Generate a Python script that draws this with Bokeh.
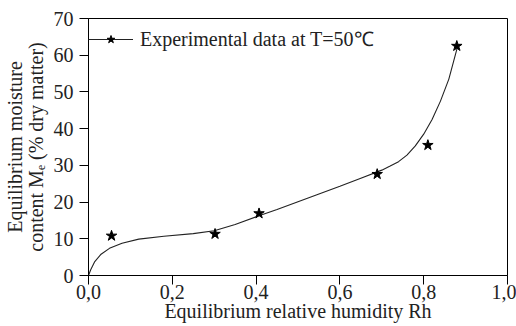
from bokeh.plotting import figure
from bokeh.models import FixedTicker, CustomJSTickFormatter, Range1d, Legend, LegendItem
from bokeh.embed import file_html
from bokeh.resources import INLINE

# Experimental data (T = 50 °C)
rh_exp = [0.055, 0.302, 0.407, 0.689, 0.810, 0.879]
me_exp = [10.8, 11.3, 16.9, 27.6, 35.5, 62.5]

# Fitted sorption curve
rh_fit = [0.0, 0.005, 0.015, 0.03, 0.05, 0.08, 0.12, 0.18, 0.25, 0.30, 0.35, 0.40,
          0.45, 0.50, 0.55, 0.60, 0.65, 0.70, 0.72, 0.74, 0.76, 0.78, 0.80, 0.82,
          0.84, 0.86, 0.88]
me_fit = [0.0, 1.5, 3.8, 5.8, 7.4, 8.8, 9.9, 10.7, 11.4, 12.2, 13.9, 16.0,
          18.0, 20.1, 22.2, 24.3, 26.5, 28.7, 29.8, 31.0, 32.8, 35.3, 38.5, 42.5,
          47.5, 53.5, 62.0]

x_ticks = [0.0, 0.2, 0.4, 0.6, 0.8, 1.0]
y_ticks = [0, 10, 20, 30, 40, 50, 60, 70]

FONT = "Liberation Serif"
FS = "20px"

p = figure(width=516, height=326, output_backend="svg", toolbar_location=None,
           x_range=Range1d(0, 1.0), y_range=Range1d(0, 70),
           min_border_left=86, min_border_right=9, min_border_top=18, min_border_bottom=51)
p.grid.visible = False
p.outline_line_color = "black"
p.outline_line_width = 1
p.background_fill_color = "white"
p.border_fill_color = "white"

for ax in (p.xaxis[0], p.yaxis[0]):
    ax.axis_line_color = "black"
    ax.major_tick_line_color = "black"
    ax.major_tick_out = 9
    ax.major_tick_in = 0
    ax.minor_tick_line_color = None
    ax.major_label_text_font = FONT
    ax.major_label_text_font_size = FS
    ax.major_label_text_color = "#222222"
    ax.axis_label_text_font = FONT
    ax.axis_label_text_font_size = FS
    ax.axis_label_text_font_style = "normal"
    ax.axis_label_text_color = "#222222"

p.xaxis.ticker = FixedTicker(ticks=x_ticks)
p.yaxis.ticker = FixedTicker(ticks=y_ticks)
p.xaxis.formatter = CustomJSTickFormatter(code="return tick.toFixed(1).replace('.', ',');")
p.xaxis.axis_label = "Equilibrium relative humidity Rh"
p.yaxis.axis_label = "Equilibrium moisture\ncontent M\u2091 (% dry matter)"
p.yaxis.axis_label_text_line_height = 0.95
p.xaxis.major_label_standoff = 0
p.xaxis.axis_label_standoff = -2
p.yaxis.major_label_standoff = 6
p.yaxis.axis_label_standoff = 4

fit = p.line(rh_fit, me_fit, line_color="#222222", line_width=1.1)
pts = p.scatter(rh_exp, me_exp, marker="star", size=11, fill_color="black", line_color="black")

legend = Legend(items=[LegendItem(label="Experimental data at T=50\u2103", renderers=[fit, pts])],
                location=(0, 223), margin=0, padding=0, glyph_width=45, glyph_height=20,
                label_height=20, label_standoff=7, border_line_alpha=0,
                background_fill_alpha=0, label_text_font=FONT, label_text_font_size=FS,
                label_text_color="#222222")
p.add_layout(legend)

open("out.html", "w").write(file_html(p, INLINE))
